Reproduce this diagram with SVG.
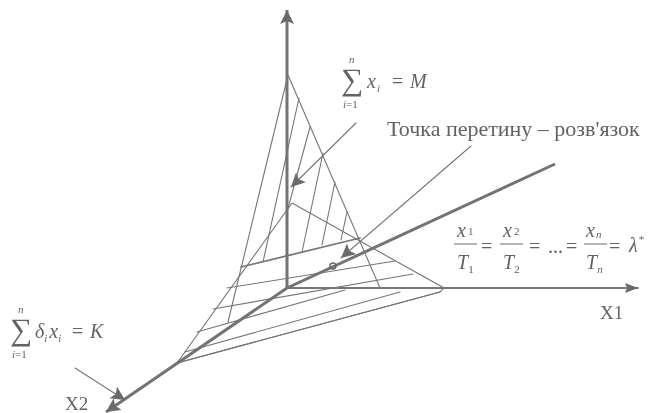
<svg xmlns="http://www.w3.org/2000/svg" width="648" height="413" viewBox="0 0 648 413">
<style>
text{font-family:"Liberation Serif","Times New Roman",serif;fill:#626262}
.i{font-style:italic}
.s{font-size:11px}
.m{font-size:20px}
.b{font-size:31px}
.t{stroke:#757575;stroke-width:1.1;fill:none;stroke-linecap:round}
.h{stroke:#777;stroke-width:1.8;fill:none;stroke-linecap:round}
.a{stroke:#737373;stroke-width:3;fill:none}
.f{stroke:#6a6a6a;stroke-width:1}
</style>
<defs>
<filter id="soft" x="-5%" y="-5%" width="110%" height="110%"><feGaussianBlur stdDeviation="0.55"/></filter>
<marker id="ah" markerUnits="userSpaceOnUse" markerWidth="18" markerHeight="16" refX="14" refY="7" orient="auto"><path d="M0 0L14 7L0 14L3 7Z" fill="#6a6a6a"/></marker>
<marker id="sm" markerUnits="userSpaceOnUse" markerWidth="16" markerHeight="12" refX="13" refY="5" orient="auto"><path d="M0 0L13 5L0 10L2 5Z" fill="#6a6a6a"/></marker>
</defs>
<rect width="648" height="413" fill="#fff"/>
<g id="connectors" filter="url(#soft)">
<g id="vertical-plane">
<path class="t" d="M288 75L228 322M288 75L380 288"/>
<path class="t" d="M299 98L263 262M310 127L287 212M323 153L302 252M335 182L322 245M347 212L341 240"/>
</g>
<g id="horizontal-plane">
<path class="t" d="M292 203L444 288L440 292L177 363L292 203"/>
<path class="h" d="M241 267L360 238"/>
<path class="t" d="M227 288L395 261M213 309L413 274M197 332L345 290M185 352L400 292M177 363L440 292"/>
</g>
<g id="axes">
<path class="a" d="M287 288V10" marker-end="url(#ah)"/>
<path class="h" d="M287 288H638" marker-end="url(#sm)"/>
<path class="a" d="M287 288L106 412" marker-end="url(#ah)"/>
<path class="a" d="M287 288L555 164"/>
<circle cx="333" cy="266" r="3" fill="none" stroke="#666" stroke-width="1.4"/>
</g>
<g id="leaders">
<path class="t" d="M356 123L291 187" marker-end="url(#ah)"/>
<path class="t" d="M471 146L341 258" marker-end="url(#ah)"/>
<path class="t" d="M75 368L125 400" marker-end="url(#ah)"/>
</g>
</g>
<g id="labels" filter="url(#soft)">
<text x="387" y="136" font-size="22">Точка перетину – розв'язок</text>
<text x="600" y="319" font-size="19">X1</text>
<text x="65" y="410" font-size="19">X2</text>
<g id="sum-m">
<text class="b"><tspan x="341" y="90">∑</tspan><tspan class="s i" x="349" y="63">n</tspan><tspan class="s" x="343" y="108"><tspan class="i">i</tspan>=1</tspan></text>
<text class="m i" x="367" y="88">x<tspan class="s" dx="1" dy="4">i</tspan></text>
<text class="m" x="392" y="88">=</text>
<text class="m i" x="410" y="88">M</text>
</g>
<g id="sum-k">
<text class="b"><tspan x="10" y="340">∑</tspan><tspan class="s i" x="18" y="313">n</tspan><tspan class="s" x="12" y="358"><tspan class="i">i</tspan>=1</tspan></text>
<text class="m i" x="35" y="338">δ<tspan class="s" dy="4">i</tspan><tspan dx="2" dy="-4">x</tspan><tspan class="s" dy="4">i</tspan></text>
<text class="m" x="72" y="338">=</text>
<text class="m i" x="90" y="338">K</text>
</g>
<g id="ratio">
<path class="f" d="M454 244H477M500 244H523M584 244H607"/>
<text class="m i" x="457" y="237">x<tspan class="s" font-style="normal" dx="2" dy="-2">1</tspan></text>
<text class="m i" x="457" y="269">T<tspan class="s" font-style="normal" dy="4">1</tspan></text>
<text class="m" x="481" y="253">=</text>
<text class="m i" x="503" y="237">x<tspan class="s" font-style="normal" dx="2" dy="-2">2</tspan></text>
<text class="m i" x="503" y="269">T<tspan class="s" font-style="normal" dy="4">2</tspan></text>
<text class="m" x="529" y="253">=</text>
<text class="m" x="548" y="253">...</text>
<text class="m" x="566" y="253">=</text>
<text class="m i" x="586" y="237">x<tspan class="s" dx="1" dy="1">n</tspan></text>
<text class="m i" x="586" y="269">T<tspan class="s" dy="4">n</tspan></text>
<text class="m" x="609" y="253">=</text>
<text class="m i" x="629" y="252">λ<tspan class="s" font-style="normal" dx="1" dy="-9">*</tspan></text>
</g>
</g>
</svg>
